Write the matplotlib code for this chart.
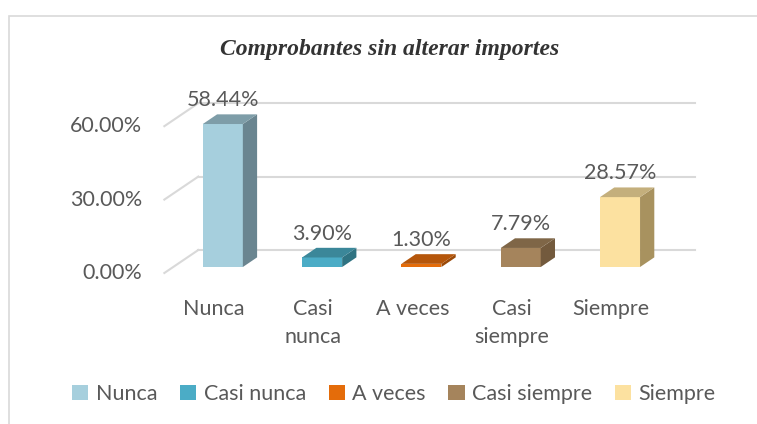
import matplotlib.pyplot as plt
from matplotlib.patches import Polygon, Patch, Rectangle

categories = ["Nunca", "Casi nunca", "A veces", "Casi siempre", "Siempre"]
tick_labels = ["Nunca", "Casi\nnunca", "A veces", "Casi\nsiempre", "Siempre"]
values = [58.44, 3.90, 1.30, 7.79, 28.57]
value_labels = ["58.44%", "3.90%", "1.30%", "7.79%", "28.57%"]
yticks = [0, 30, 60]
ytick_labels = ["0.00%", "30.00%", "60.00%"]
title = "Comprobantes sin alterar importes"

front_colors = ["#A6CFDD", "#4BACC6", "#E46C0A", "#A5845C", "#FCE1A0"]
top_colors = ["#7E9DA8", "#3B8799", "#B5560B", "#7F6647", "#C4AF7C"]
side_colors = ["#6A8590", "#2F7382", "#9A4908", "#735A3D", "#A8925F"]

TXT = "#595959"
GRID = "#D9D9D9"
FONT = "Lato"

# pseudo 3d projection: depth 0 = front of the floor, depth 1 = back wall
DX = 0.342   # x shift (category units) per unit of depth
DY = 9.4     # y shift (percent units) per unit of depth
d0, d1 = 0.26, 0.68
w = 0.403

fig = plt.figure(figsize=(7.57, 4.24), dpi=100)
ax = fig.add_axes([0, 0, 1, 1])
ax.set_xlim(-214 / 99.3, (757 - 214) / 99.3)
ax.set_ylim((273 - 424) / 2.447, 273 / 2.447)
ax.axis("off")

# chart border
fig.patches.append(Rectangle((9 / 757, -0.1), 1.2, 1 - 16 / 424 + 0.1,
                             transform=fig.transFigure, fill=False,
                             edgecolor=GRID, lw=1.2))

# gridlines on back wall and left side
for t, lab in zip(yticks, ytick_labels):
    ax.plot([-0.5 + DX, 4.5 + DX], [t + DY, t + DY], color=GRID, lw=1.5, zorder=1)
    ax.plot([-0.5, -0.5 + DX], [t, t + DY], color=GRID, lw=1.5, zorder=1)
    ax.annotate(lab, (-0.5, t), xytext=(-16, 0), textcoords="offset points",
                ha="right", va="center", fontsize=15.5, color=TXT, family=FONT)

xs = list(range(len(values)))
x_front = [i + d0 * DX for i in xs]
ax.bar(x_front, values, width=w, bottom=d0 * DY, color=front_colors, zorder=3)

ddx = (d1 - d0) * DX
for i, v in enumerate(values):
    x0 = x_front[i] - w / 2
    x1 = x0 + w
    yb = d0 * DY
    yt = d0 * DY + v
    yb2 = d1 * DY
    yt2 = d1 * DY + v
    ax.add_patch(Polygon([(x1, yb), (x1 + ddx, yb2), (x1 + ddx, yt2), (x1, yt)],
                         closed=True, color=side_colors[i], zorder=3, lw=0))
    ax.add_patch(Polygon([(x0, yt), (x1, yt), (x1 + ddx, yt2), (x0 + ddx, yt2)],
                         closed=True, color=top_colors[i], zorder=3, lw=0))
    ax.annotate(value_labels[i], (x_front[i], yt2), xytext=(0, 3),
                textcoords="offset points", ha="center", va="bottom",
                fontsize=15.5, color=TXT, family=FONT, zorder=4)

for i, lab in enumerate(tick_labels):
    ax.text(i, -10.5, lab, ha="center", va="top", fontsize=15.5, color=TXT,
            family=FONT, linespacing=1.55)

fig.text(390 / 757, 1 - 50 / 424, title, ha="center", va="center",
         fontsize=17, fontweight="bold", fontstyle="italic",
         family="Liberation Serif", color="#333333")

handles = [Patch(facecolor=c, edgecolor="none") for c in front_colors]
fig.legend(handles, categories, loc="center", bbox_to_anchor=(394 / 757, 1 - 394 / 424),
           ncol=5, frameon=False, handlelength=0.75, handleheight=0.75,
           handletextpad=0.35, columnspacing=1.05,
           prop={"family": FONT, "size": 15.5}, labelcolor=TXT)

fig.savefig("out.png", dpi=100)
